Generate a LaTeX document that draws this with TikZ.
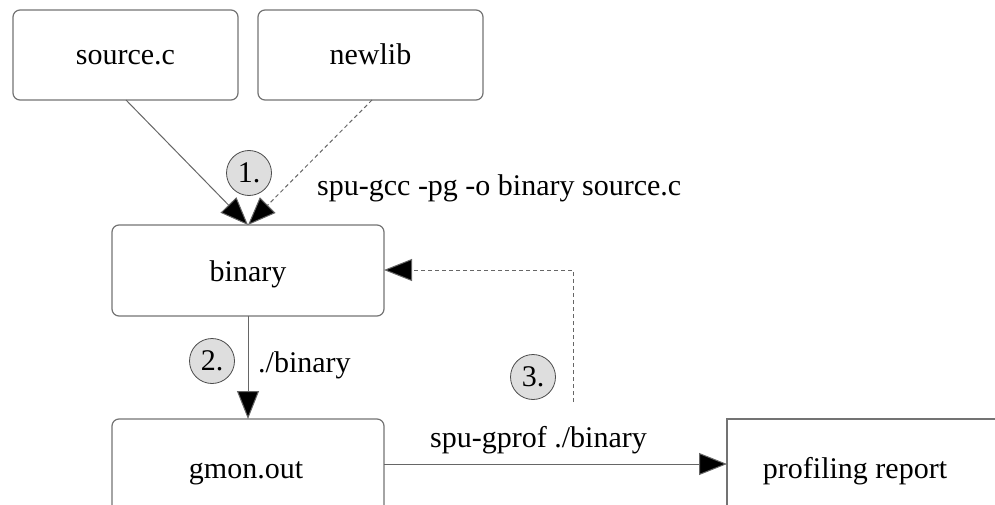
\documentclass[tikz,border=0pt]{standalone}
\usepackage{fontspec}
\setmainfont{LiberationSerif}[Extension=.ttf, UprightFont=*-Regular, BoldFont=*-Bold]
\usetikzlibrary{arrows.meta}
\begin{document}
\begin{tikzpicture}[x=1pt,y=-1pt,
  font=\rmfamily\fontsize{30}{35}\selectfont,
  box/.style={draw=black!55, line width=1.2pt, rounded corners=7pt},
  plainbox/.style={draw=black!55, line width=1.2pt},
  txt/.style={anchor=base, inner sep=0pt},
  stepmark/.style={circle, draw=black!70, fill=black!13, line width=0.8pt,
    minimum size=45pt, inner sep=0pt},
  flow/.style={draw=black!60, line width=1pt,
    -{Triangle[length=28pt,width=22pt,fill=black]}},
  dflow/.style={flow, dash pattern=on 4pt off 3pt}]
\clip (0,0) rectangle (995,505);
% boxes
\draw[box] (13,10) rectangle (238,100);
\node[txt] (src) at (125.5,65) {source.c};
\coordinate (srcB) at (126,100);
\draw[box] (258,10) rectangle (483,100);
\node[txt] (lib) at (370.5,65) {newlib};
\coordinate (libB) at (372,100);
\draw[box] (112,225) rectangle (384,316);
\node[txt] (bin) at (248,281) {binary};
\coordinate (binT) at (248,225);
\coordinate (binB) at (248,316);
\coordinate (binR) at (384,270);
\draw[box] (112,419) rectangle (384,525);
\node[txt] (gmon) at (246,478) {gmon.out};
\coordinate (gmonT) at (248,419);
\coordinate (gmonR) at (384,464);
\draw[plainbox] (727,419) rectangle (1010,525);
\node[txt] (rep) at (855,478) {profiling report};
\coordinate (repL) at (727,464);
% connectors
\draw[flow] (srcB) -- (binT);
\draw[dflow] (libB) -- (binT);
\draw[flow] (binB) -- (gmonT);
\coordinate (fbB) at (573,402);
\coordinate (fbT) at (573,270);
\draw[dflow] (fbB) -- (fbT) -- (binR);
\draw[flow] (gmonR) -- (repL);
% step markers
\node[stepmark] (s1) at (249,173) {1.};
\node[stepmark] (s2) at (212,361) {2.};
\node[stepmark] (s3) at (533,377) {3.};
% labels
\node[anchor=base west, inner sep=0pt] (l1) at (317,195) {spu-gcc -pg -o binary source.c};
\node[anchor=base west, inner sep=0pt] (l2) at (258,372) {./binary};
\node[anchor=base west, inner sep=0pt] (l3) at (430,447) {spu-gprof ./binary};
\end{tikzpicture}
\end{document}
